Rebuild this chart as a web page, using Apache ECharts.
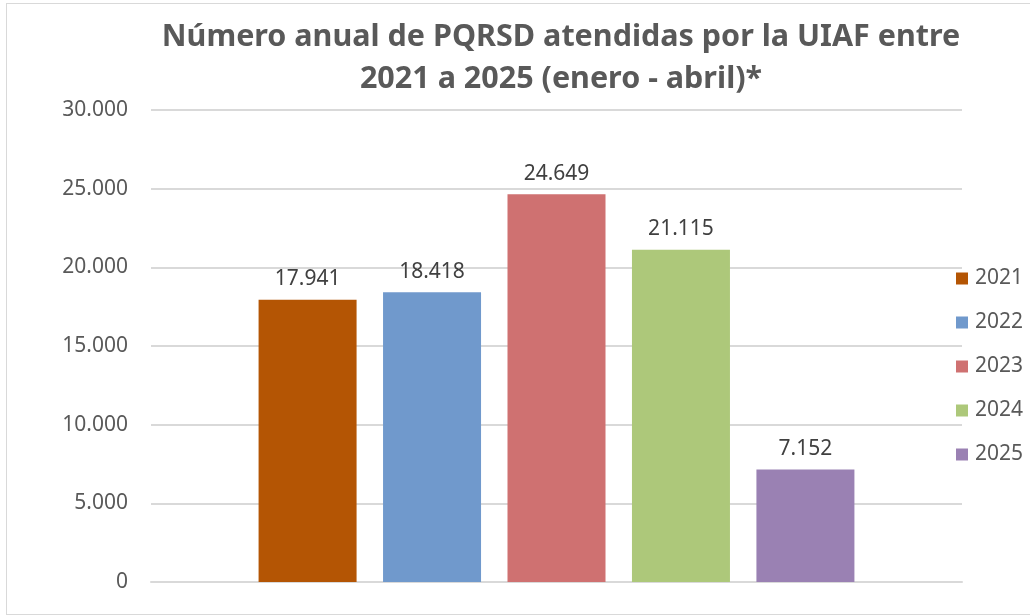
<!DOCTYPE html>
<html>
<head>
<meta charset="utf-8">
<title>PQRSD UIAF</title>
<script src="https://cdn.jsdelivr.net/npm/echarts@6/dist/echarts.min.js"></script>
<style>
  body { margin: 0; background: #fff; }
  #chart { position: absolute; left: 0; top: 0; width: 1030px; height: 616px; }
  .frame { position: absolute; left: 6px; top: 3px; width: 1040px; height: 610px; border: 1px solid #d9d9d9; pointer-events: none; }
</style>
</head>
<body>
<div id="chart"></div>
<div class="frame"></div>
<script>
// datos
var years = ['2021', '2022', '2023', '2024', '2025']
var values = [17941, 18418, 24649, 21115, 7152]
var colors = ['#b45504', '#7099cc', '#cf7171', '#adc87a', '#9a81b3']
var yTicks = [0, 5000, 10000, 15000, 20000, 25000, 30000]

function fmt(n) {
  return String(n).replace(/\B(?=(\d{3})+(?!\d))/g, '.')
}

var font = '"Noto Sans", "Open Sans", sans-serif'

var series = []
for (var i = 0; i < years.length; i++) {
  series.push({
    name: years[i],
    type: 'bar',
    data: [values[i]],
    barWidth: 98,
    barGap: '27%',
    itemStyle: { color: colors[i] },
    label: {
      show: true,
      position: 'top',
      distance: 10,
      color: '#404040',
      fontSize: 21,
      fontFamily: font,
      formatter: function (p) { return fmt(p.value) }
    }
  })
}

var myChart = echarts.init(document.getElementById('chart'))
var option = {
  animation: false,
  title: {
    text: 'Número anual de PQRSD atendidas por la UIAF entre\n2021 a 2025 (enero - abril)*',
    left: 561,
    top: 16,
    padding: 0,
    textAlign: 'center',
    textStyle: {
      color: '#595959',
      fontSize: 30.5,
      fontWeight: 'bold',
      fontFamily: font,
      lineHeight: 42
    }
  },
  legend: {
    orient: 'vertical',
    left: 951,
    top: 263,
    itemWidth: 12,
    itemHeight: 12,
    itemGap: 23,
    icon: 'rect',
    data: years,
    textStyle: { color: '#595959', fontSize: 21, fontFamily: font, lineHeight: 21, padding: [0, 0, 0, 2] }
  },
  grid: {
    left: 151,
    right: 68,
    top: 110,
    bottom: 34
  },
  xAxis: {
    type: 'category',
    data: [''],
    axisLine: { lineStyle: { color: '#d9d9d9', width: 2 } },
    axisTick: { show: false },
    axisLabel: { show: false }
  },
  yAxis: {
    type: 'value',
    min: yTicks[0],
    max: yTicks[yTicks.length - 1],
    interval: yTicks[1] - yTicks[0],
    axisLine: { show: false },
    axisTick: { show: false },
    splitLine: { lineStyle: { color: '#d9d9d9', width: 2 } },
    axisLabel: {
      margin: 23,
      color: '#595959',
      fontSize: 21,
      fontFamily: font,
      formatter: function (v) { return fmt(v) }
    }
  },
  series: series
}
myChart.setOption(option)
</script>
</body>
</html>
